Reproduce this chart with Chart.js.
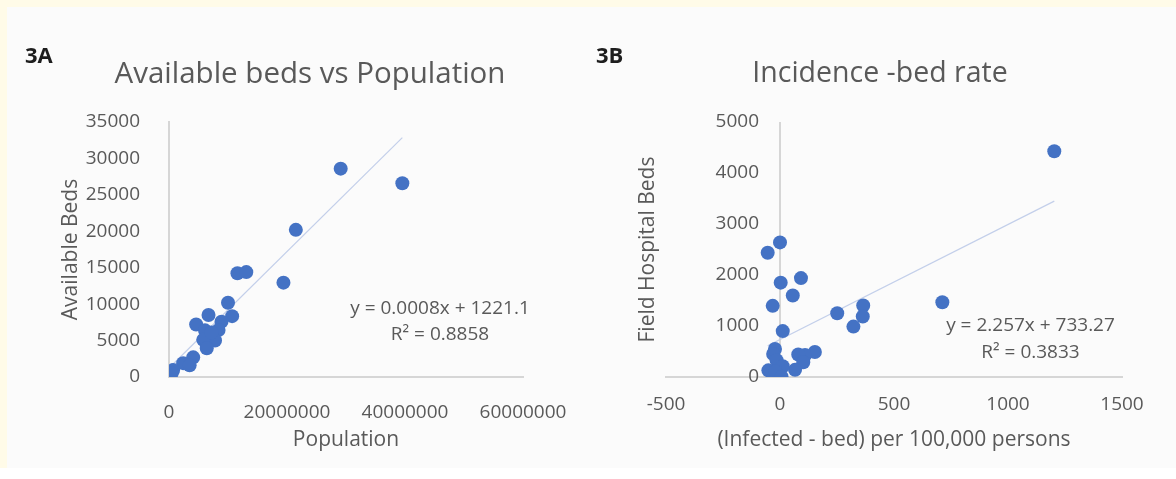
<!DOCTYPE html>
<html>
<head>
<meta charset="utf-8">
<script src="https://cdn.jsdelivr.net/npm/chart.js@4"></script>
<style>
  html, body { margin: 0; padding: 0; }
  body { width: 1176px; height: 479px; background: #ffffff; position: relative; overflow: hidden; font-family: "Open Sans", sans-serif; }
  #frame { position: absolute; left: 0; top: 0; width: 1176px; height: 468px; background: #fffbe8; }
  #panel { position: absolute; left: 7px; top: 7px; width: 1169px; height: 461px; background: #fbfbfb; }
  canvas { position: absolute; top: 0; }
  #chartA { left: 0; }
  #chartB { left: 590px; }
</style>
</head>
<body>
<div id="frame"></div>
<div id="panel"></div>
<canvas id="chartA" width="590" height="479"></canvas>
<canvas id="chartB" width="586" height="479"></canvas>
<script>
// ---- 3A: available beds against population ----
const popValues = [29100000, 39550000, 21500000, 19400000, 11600000, 13100000, 10000000, 10700000,
  6700000, 4600000, 8900000, 8400000, 6100000, 7800000, 5800000, 6400000, 7200000,
  4100000, 2400000, 3500000, 700000, 450000];
const availBeds = [28600, 26600, 20200, 12950, 14250, 14400, 10200, 8350,
  8500, 7200, 7600, 6450, 6400, 5000, 5100, 3950, 6100,
  2700, 1900, 1600, 950, 500];
const popTicks = [0, 20000000, 40000000, 60000000];
const bedTicks = [0, 5000, 10000, 15000, 20000, 25000, 30000, 35000];
const slopeA = 0.0008;
const interceptA = 1221.1;
const r2A = 0.8858;

// ---- 3B: field hospital beds against incidence ----
const incidenceRate = [1203, 712, 365, 363, 322, 251, 153, 110, 80, 102, 66, 92, 56,
  0, -54, 3, -32, 12, -22, -30, -15, 12, -51, -20, 7];
const fieldBeds = [4426, 1467, 1401, 1185, 988, 1251, 490, 430, 440, 290, 140, 1939, 1598,
  2639, 2436, 1850, 1395, 900, 550, 450, 330, 210, 130, 110, 5];
const incTicks = [-500, 0, 500, 1000, 1500];
const fieldTicks = [0, 1000, 2000, 3000, 4000, 5000];
const slopeB = 2.257;
const interceptB = 733.27;
const r2B = 0.3833;

const MARK = '#4472c4';
const TREND = '#c3cfea';
const INK = '#595959';
const AXIS = '#d6d6d6';
const FONT = '"Open Sans", sans-serif';

function points(xs, ys) { return xs.map((x, i) => ({ x, y: ys[i] })); }
function trend(xs, slope, intercept) {
  const lo = Math.min(...xs), hi = Math.max(...xs);
  return [{ x: lo, y: slope * lo + intercept }, { x: hi, y: slope * hi + intercept }];
}
function fixedTicks(list) {
  return scale => { scale.ticks = list.map(v => ({ value: v })); };
}

// free text: panel letters, chart titles, axis captions and trendline equations
const textMarks = {
  id: 'textMarks',
  afterDraw(chart, args, opts) {
    const ctx = chart.ctx;
    ctx.save();
    for (const it of opts.items || []) {
      ctx.font = it.font;
      ctx.fillStyle = it.color;
      ctx.textAlign = it.align || 'center';
      ctx.textBaseline = it.baseline || 'middle';
      if (it.rotate) {
        ctx.save();
        ctx.translate(it.x, it.y);
        ctx.rotate(-Math.PI / 2);
        ctx.fillText(it.text, 0, 0);
        ctx.restore();
      } else {
        ctx.fillText(it.text, it.x, it.y);
      }
    }
    ctx.restore();
  }
};
Chart.register(textMarks);

const tickFont = { family: FONT, size: 19 };
const capFont = { family: FONT, size: 21, lineHeight: 1.2 };

function baseX(ticks, min, max) {
  return {
    type: 'linear', min, max,
    afterBuildTicks: fixedTicks(ticks),
    afterFit: s => { s.height = 102; },
    grid: { display: false },
    border: { display: true, color: AXIS, width: 2 },
    ticks: { color: INK, font: tickFont, padding: 16, maxRotation: 0, autoSkip: false, callback: v => String(v) }
  };
}

new Chart(document.getElementById('chartA'), {
  type: 'scatter',
  data: {
    datasets: [
      { data: points(popValues, availBeds), backgroundColor: MARK, borderWidth: 0, pointRadius: 7, pointHoverRadius: 7, order: 0 },
      { data: trend(popValues, slopeA, interceptA), showLine: true, borderColor: TREND, borderWidth: 1.2, pointRadius: 0, order: 1 }
    ]
  },
  options: {
    responsive: false, animation: false,
    layout: { padding: { left: 40, right: 67, top: 122, bottom: 0 } },
    plugins: {
      legend: { display: false }, tooltip: { enabled: false },
      textMarks: { items: [
        { text: '3A', x: 25, y: 63, align: 'left', baseline: 'alphabetic', font: 'bold 22px ' + FONT, color: '#1e1e1e' },
        { text: 'Available beds vs Population', x: 310, y: 83, baseline: 'alphabetic', font: '29.5px ' + FONT, color: INK },
        { text: `y = ${slopeA}x + ${interceptA}`, x: 440, y: 309, font: '19px ' + FONT, color: INK },
        { text: `R² = ${r2A}`, x: 440, y: 335, font: '19px ' + FONT, color: INK }
      ] }
    },
    scales: {
      x: Object.assign(baseX(popTicks, 0, 60000000), {
        title: { display: true, text: 'Population', color: INK, font: capFont, padding: { top: 0, bottom: 26 } }
      }),
      y: {
        type: 'linear', min: 0, max: 35000,
        afterBuildTicks: fixedTicks(bedTicks),
        afterFit: s => { s.width = 129; },
        grid: { display: false },
        border: { display: true, color: AXIS, width: 2 },
        ticks: { color: INK, font: tickFont, padding: 21, callback: v => String(v) },
        title: { display: true, text: 'Available Beds', color: INK, font: capFont, padding: { top: 18, bottom: 0 } }
      }
    }
  }
});

// 3B: the value axis crosses at x = 0; its line is the x grid line at 0,
// its labels hang just left of it
const xB = baseX(incTicks, -500, 1500);
xB.grid = {
  display: true, drawTicks: false,
  color: c => (c.tick && c.tick.value === 0 ? AXIS : 'rgba(0,0,0,0)'),
  lineWidth: 2
};
xB.title = { display: true, text: '(Infected - bed) per 100,000 persons', color: INK, font: capFont, padding: { top: 0, bottom: 26 } };

new Chart(document.getElementById('chartB'), {
  type: 'scatter',
  data: {
    datasets: [
      { data: points(incidenceRate, fieldBeds), backgroundColor: MARK, borderWidth: 0, pointRadius: 7, pointHoverRadius: 7, order: 0 },
      { data: trend(incidenceRate, slopeB, interceptB), showLine: true, borderColor: TREND, borderWidth: 1.2, pointRadius: 0, order: 1 }
    ]
  },
  options: {
    responsive: false, animation: false,
    layout: { padding: { left: 76, right: 54, top: 122, bottom: 0 } },
    plugins: {
      legend: { display: false }, tooltip: { enabled: false },
      textMarks: { items: [
        { text: '3B', x: 6, y: 63, align: 'left', baseline: 'alphabetic', font: 'bold 22px ' + FONT, color: '#1e1e1e' },
        { text: 'Incidence -bed rate', x: 290, y: 82, baseline: 'alphabetic', font: '28.5px ' + FONT, color: INK },
        { text: 'Field Hospital Beds', x: 58, y: 249.5, rotate: true, font: '21px ' + FONT, color: INK },
        { text: `y = ${slopeB}x + ${interceptB}`, x: 440.5, y: 326, font: '19px ' + FONT, color: INK },
        { text: `R² = ${r2B}`, x: 440.5, y: 352.5, font: '19px ' + FONT, color: INK }
      ] }
    },
    scales: {
      x: xB,
      y: {
        type: 'linear', min: 0, max: 5000,
        position: { x: -92 },
        afterBuildTicks: fixedTicks(fieldTicks),
        grid: { display: false },
        border: { display: false },
        ticks: { color: INK, font: tickFont, padding: 0, callback: v => String(v) },
        title: { display: false }
      }
    }
  }
});
</script>
</body>
</html>
